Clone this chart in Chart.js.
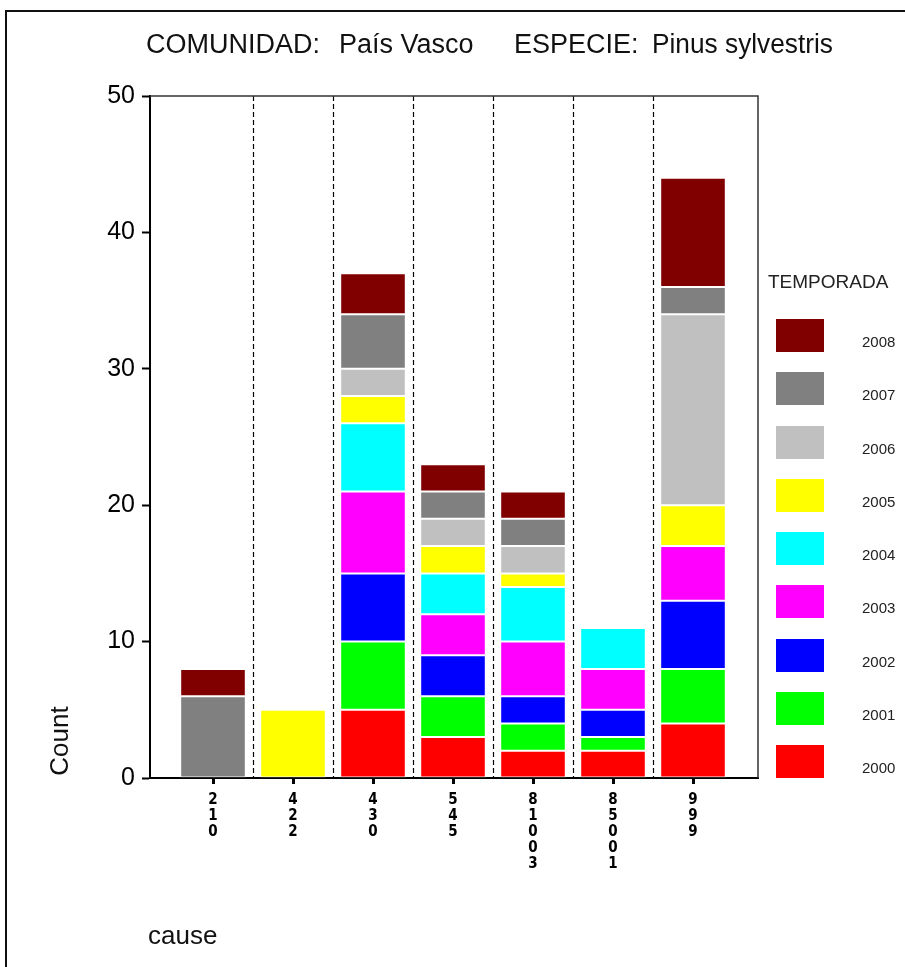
<!DOCTYPE html>
<html>
<head>
<meta charset="utf-8">
<script src="https://cdn.jsdelivr.net/npm/chart.js@4/dist/chart.umd.min.js"></script>
<style>
  html, body { margin: 0; padding: 0; background: #fff; }
  #wrap { position: relative; width: 905px; height: 967px; }
  canvas { position: absolute; left: 0; top: 0; }
</style>
</head>
<body>
<div id="wrap"><canvas id="c" width="905" height="967"></canvas></div>
<script>
// ---- data ----
const causes = ['210', '422', '430', '545', '81003', '85001', '999'];
const seasons = ['2000', '2001', '2002', '2003', '2004', '2005', '2006', '2007', '2008'];
const s2000 = [0, 0, 5, 3, 2, 2, 4];
const s2001 = [0, 0, 5, 3, 2, 1, 4];
const s2002 = [0, 0, 5, 3, 2, 2, 5];
const s2003 = [0, 0, 6, 3, 4, 3, 4];
const s2004 = [0, 0, 5, 3, 4, 3, 0];
const s2005 = [0, 5, 2, 2, 1, 0, 3];
const s2006 = [0, 0, 2, 2, 2, 0, 14];
const s2007 = [6, 0, 4, 2, 2, 0, 2];
const s2008 = [2, 0, 3, 2, 2, 0, 8];
const yTicks = [0, 10, 20, 30, 40, 50];
const titleText = 'COMUNIDAD:  País Vasco    ESPECIE:  Pinus sylvestris';
const yTitle = 'Count';
const xTitle = 'cause';
const legendTitle = 'TEMPORADA';

const seriesValues = [s2000, s2001, s2002, s2003, s2004, s2005, s2006, s2007, s2008];
const seriesColors = ['#FF0000', '#00FF00', '#0000FF', '#FF00FF', '#00FFFF', '#FFFF00', '#C0C0C0', '#808080', '#800000'];

const FONT = "'Liberation Sans', Arial, Helvetica, sans-serif";
const NARROW = "'Liberation Sans Narrow', 'DejaVu Sans Condensed', 'Arial Narrow', sans-serif";

const datasets = seasons.map((name, k) => ({
  label: name,
  data: seriesValues[k].map((v, i) => ({ x: i, y: v === 0 ? null : v })),
  backgroundColor: seriesColors[k],
  borderColor: 'rgba(255,255,255,0.6)',
  borderWidth: 1,
  borderSkipped: false,
  grouped: false,
  categoryPercentage: 1,
  barPercentage: 0.82
}));

// title pieces placement (x start, max width) matching the reference layout
const titleSlots = [[146, 176], [339, 138], [514, 127], [652, 181]];

const decorPlugin = {
  id: 'decor',
  beforeDatasetsDraw(chart) {
    const { ctx, chartArea: a, scales: { x } } = chart;
    ctx.save();
    ctx.strokeStyle = '#000';
    ctx.lineWidth = 1.2;
    ctx.setLineDash([5, 3]);
    for (let i = 0; i < causes.length - 1; i++) {
      const px = Math.round(x.getPixelForValue(i + 0.5)) + 0.5;
      ctx.beginPath();
      ctx.moveTo(px, a.top);
      ctx.lineTo(px, a.bottom);
      ctx.stroke();
    }
    ctx.restore();
  },
  afterDraw(chart) {
    const { ctx, chartArea: a } = chart;
    ctx.save();
    ctx.strokeStyle = '#333';
    ctx.lineWidth = 1.5;
    ctx.beginPath();
    ctx.moveTo(a.left, a.top);
    ctx.lineTo(a.right, a.top);
    ctx.lineTo(a.right, a.bottom);
    ctx.stroke();
    ctx.fillStyle = '#111';
    ctx.fillRect(5, 10, 900, 2);
    ctx.fillRect(5, 10, 2, 957);
    ctx.fillStyle = '#111';
    ctx.textBaseline = 'middle';
    ctx.textAlign = 'left';
    ctx.font = '27px ' + FONT;
    const parts = titleText.split(/\s{2,}/);
    parts.forEach((p, i) => {
      const [sx, w] = titleSlots[i];
      ctx.fillText(p, sx, 46, w);
    });
    ctx.font = '26px ' + FONT;
    ctx.fillText(xTitle, 148, 937);
    ctx.save();
    ctx.translate(61, 741);
    ctx.rotate(-Math.PI / 2);
    ctx.textAlign = 'center';
    ctx.fillText(yTitle, 0, 0);
    ctx.restore();
    ctx.fillStyle = '#222';
    ctx.font = '19px ' + FONT;
    ctx.fillText(legendTitle, 768, 283);
    const n = chart.data.datasets.length;
    for (let j = 0; j < n; j++) {
      const ds = chart.data.datasets[n - 1 - j];
      const top = Math.round(319 + j * 53.25);
      ctx.fillStyle = ds.backgroundColor;
      ctx.fillRect(776, top, 48, 33);
      ctx.fillStyle = '#222';
      ctx.font = '15px ' + FONT;
      ctx.fillText(ds.label, 862, top + 24);
    }
    ctx.restore();
  }
};

new Chart(document.getElementById('c'), {
  type: 'bar',
  data: { datasets },
  options: {
    responsive: false,
    animation: false,
    devicePixelRatio: 1,
    layout: { padding: { left: 0, top: 96, right: 147, bottom: 0 } },
    plugins: { legend: { display: false }, tooltip: { enabled: false }, title: { display: false } },
    scales: {
      x: {
        type: 'linear',
        offset: false,
        stacked: false,
        min: -0.7875,
        max: 6.8125,
        afterBuildTicks: s => { s.ticks = causes.map((c, i) => ({ value: i })); },
        afterFit: s => { s.height = 189; },
        ticks: {
          autoSkip: false,
          maxRotation: 0,
          minRotation: 0,
          padding: 8,
          color: '#000',
          font: { family: NARROW, size: 15, weight: 'bold', lineHeight: '16px' },
          callback: v => causes[v] ? causes[v].split('') : ''
        },
        grid: { drawOnChartArea: false, tickLength: 6, tickWidth: 3, tickColor: '#000', offset: false },
        border: { color: '#000', width: 2 }
      },
      y: {
        stacked: true,
        min: 0,
        max: 50,
        afterBuildTicks: s => { s.ticks = yTicks.map(v => ({ value: v })); },
        afterFit: s => { s.width = 150; },
        ticks: { padding: 7, color: '#000', font: { family: FONT, size: 25 } },
        grid: { drawOnChartArea: false, tickLength: 8, tickWidth: 2, tickColor: '#000' },
        border: { color: '#000', width: 2 }
      }
    }
  },
  plugins: [decorPlugin]
});
</script>
</body>
</html>
